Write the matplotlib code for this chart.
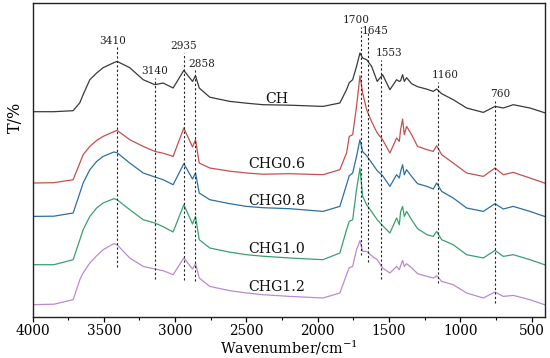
import matplotlib
matplotlib.use("Agg")
import matplotlib.pyplot as plt
from matplotlib.ticker import MultipleLocator

# ---------------- data ----------------
wavenumber = [4000, 3850, 3715, 3668, 3645, 3598, 3550, 3505, 3430, 3407, 3318, 3224, 3142, 3084,
              3014, 2939, 2878, 2857, 2831, 2757, 2616, 2499, 2385, 2195, 1963, 1845,
              1798, 1779, 1755, 1728, 1704, 1685, 1657, 1622, 1583, 1545, 1494, 1447,
              1428, 1419, 1405, 1393, 1377, 1342, 1300, 1234, 1190, 1166, 1131, 1050,
              956, 839, 757, 699, 629, 512, 410]

T_CH = [205, 205, 206, 214, 222, 237, 243.7, 249, 254, 255.3, 249, 237, 232, 233.7,
        228.7, 246.3, 235.3, 241, 228.7, 219.5, 215.3, 213.5, 212, 211.5, 210.3, 213.7,
        227, 234, 237, 250.3, 263.7, 258.7, 257, 250.3, 235.3, 242, 227, 237,
        235.3, 236, 242, 235.3, 239, 233, 230, 227.5, 225.3, 227.7, 223, 217,
        208.7, 204.3, 210.3, 208.7, 212, 208.7, 204]

T_CHG06 = [133.7, 134, 137, 153.7, 162, 170.3, 176.3, 180.3, 185, 186.3, 177, 170.3, 165.3, 163.5,
           160.3, 188.7, 169.7, 177, 153.7, 148.7, 145.5, 143.7, 142.5, 143, 142, 147,
           163.7, 180.3, 182, 210.3, 241, 223.7, 207, 195, 183.7, 177, 163.7, 178.7,
           175.3, 187, 197.7, 182, 190.3, 182, 170.3, 167, 165.3, 171, 162, 153.7,
           143.7, 140.3, 148.7, 142, 144.3, 138.7, 133.7]

T_CHG08 = [100.3, 100.5, 103.7, 123.7, 133.7, 147, 155.3, 160.3, 164.7, 164, 153.7, 143.7, 139.7, 137,
           132, 153, 137.7, 143.7, 123.7, 117, 113, 110.3, 109, 108, 105.3, 110.3,
           132, 141, 143.7, 160.3, 177, 165, 161, 154, 146, 141, 130.3, 142,
           138.7, 145, 152, 142, 147, 140.3, 133, 130.3, 127.7, 133.7, 125.3, 118.7,
           108.7, 105.3, 113, 107.7, 110.3, 105.3, 100.3]

T_CHG10 = [52, 52, 57, 77, 87, 100.3, 108.7, 113.7, 118, 117, 107, 97, 93.7, 90,
           84.7, 112, 92.7, 100.3, 77, 68.7, 64.5, 62, 60.5, 58.7, 57, 63.7,
           87, 95.3, 97, 127, 148.7, 120.3, 112, 105, 97, 91, 83.7, 98.7,
           92, 105, 110.3, 100.3, 105.3, 97, 88, 82, 80.3, 85.3, 77, 72,
           62, 58.7, 66.3, 60.3, 62, 57, 52]

T_CHG12 = [12, 12.5, 17, 37, 43.7, 53.7, 61, 67, 73, 72, 58.7, 50.3, 47.7, 46,
           42, 58.7, 47.7, 53, 38.7, 30.3, 26, 23.7, 22, 20.3, 18.7, 23.7,
           42, 49, 50.3, 67, 76, 65.3, 65.3, 61, 57, 48.7, 43.7, 50.3,
           47, 51, 56.3, 50.3, 53, 49, 43, 40.3, 38.7, 41, 35.3, 32,
           23.7, 18.7, 24.7, 20.3, 21.3, 17, 12]

series_names = ["CH", "CHG0.6", "CHG0.8", "CHG1.0", "CHG1.2"]
series_values = [T_CH, T_CHG06, T_CHG08, T_CHG10, T_CHG12]

peak_labels = [3410, 3140, 2935, 2858, 1700, 1645, 1553, 1160, 760]

x_ticks = [4000, 3500, 3000, 2500, 2000, 1500, 1000, 500]

# ---------------- style / layout ----------------
plt.rcParams["mathtext.fontset"] = "dejavuserif"
colors = ["#3a3a3a", "#c4504f", "#2d6fa3", "#3aa070", "#b88bd3"]
name_label_xy = [(2285, 218), (2285, 153), (2285, 116), (2285, 68), (2285, 30)]
# (line bottom, line top, label x, label y)
peak_layout = [(50, 270, 3440, 276), (38, 239, 3142, 246), (37, 264, 2939, 271),
               (36, 247, 2815, 253), (62, 290, 1732, 297), (55, 285, 1599, 286),
               (38, 257, 1501, 264), (34, 235, 1108, 241.5), (14, 216, 722, 223)]

serif = ["DejaVu Serif"]

fig = plt.figure(figsize=(5.5, 3.58), dpi=100)
ax = fig.add_axes([32.5 / 550, 41.3 / 358, (544.5 - 32.5) / 550, (316.7 - 3.3) / 358])

for name, vals, c in zip(series_names, series_values, colors):
    ax.plot(wavenumber, vals, color=c, lw=0.9, solid_joinstyle="round")

for name, (lx, ly) in zip(series_names, name_label_xy):
    ax.text(lx, ly, name, ha="center", va="center", fontsize=10.2,
            family=serif, color="#111111")

for wn, (yb, yt, lx, ly) in zip(peak_labels, peak_layout):
    ax.plot([wn, wn], [yb, yt], color="#222222", lw=0.8, ls=(0, (2, 2)))
    ax.text(lx, ly, str(wn), ha="center", va="center", fontsize=7.6,
            family=serif, color="#222222")

ax.set_xlim(4000, 410)
ax.set_ylim(0, 313.4)
ax.set_xticks(x_ticks)
ax.set_xticklabels([str(t) for t in x_ticks], family=serif, fontsize=9.8)
ax.xaxis.set_minor_locator(MultipleLocator(250))
ax.tick_params(axis="x", which="major", direction="out", length=3.5, width=0.9, pad=2)
ax.tick_params(axis="x", which="minor", direction="out", length=2.5, width=0.8)
ax.set_yticks([])
for s in ax.spines.values():
    s.set_linewidth(1.0)
    s.set_color("#222222")

ax.set_xlabel("Wavenumber/cm$^{-1}$", family=serif, fontsize=10.3, va="center")
ax.xaxis.set_label_coords(0.501, -0.1)
ax.set_ylabel("T/%", family=serif, fontsize=11.5, va="center")
ax.yaxis.set_label_coords(-0.034, 0.637)

fig.savefig("out.png", dpi=100)
